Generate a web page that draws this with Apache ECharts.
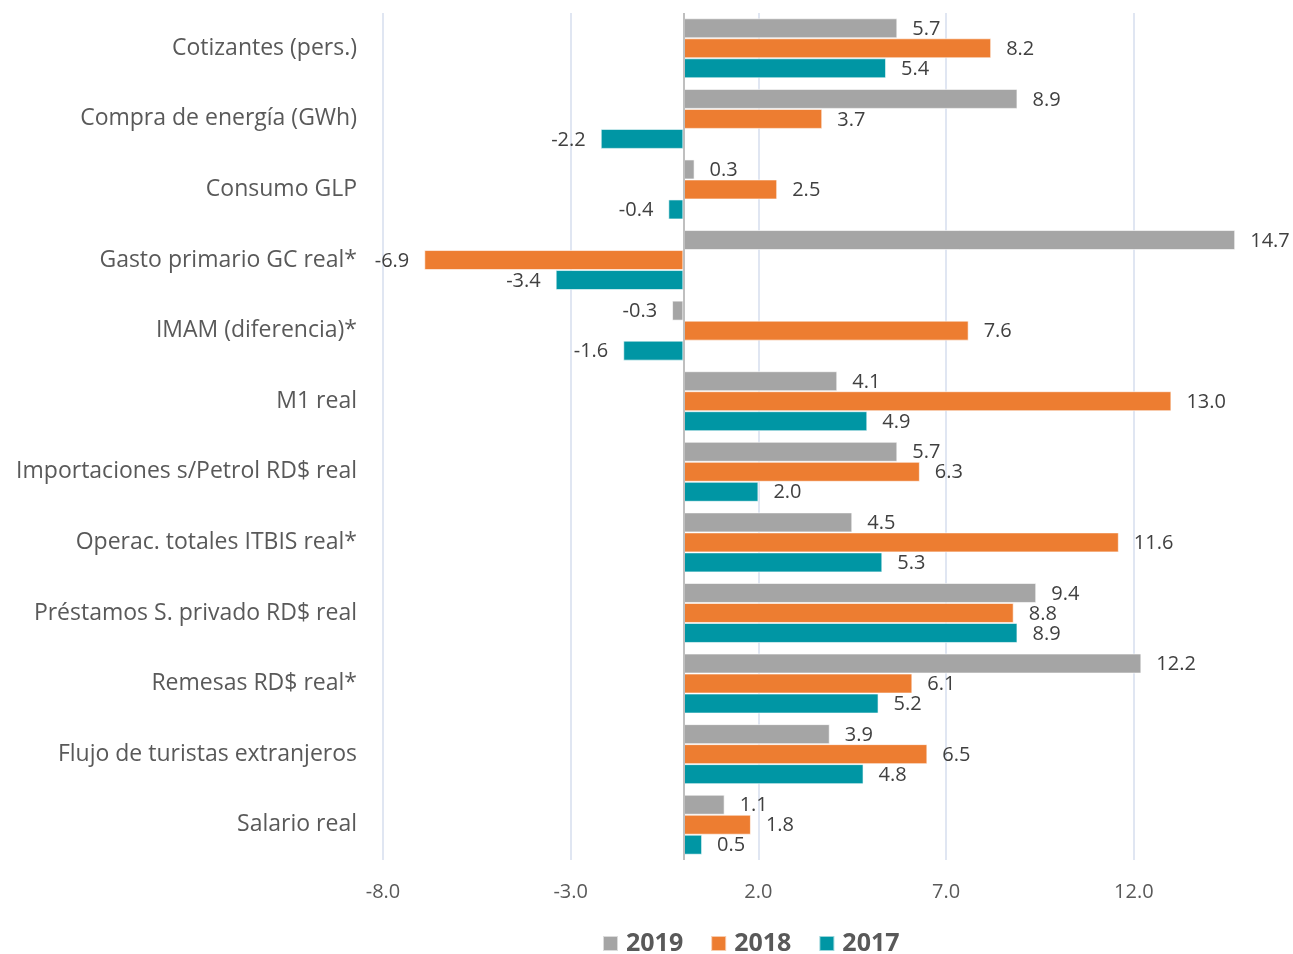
<!DOCTYPE html>
<html>
<head>
<meta charset="utf-8" />
<title>Indicadores</title>
<script src="https://cdn.jsdelivr.net/npm/echarts@6/dist/echarts.min.js"></script>
<style type="text/css">
  html, body { margin: 0; padding: 0; background: #fff; }
  #main { width: 1293px; height: 954px; }
</style>
</head>
<body>
<div id="main"></div>
<script>
// categorias (de arriba hacia abajo)
var categories = [
  'Cotizantes (pers.)',
  'Compra de energía (GWh)',
  'Consumo GLP',
  'Gasto primario GC real*',
  'IMAM (diferencia)*',
  'M1 real',
  'Importaciones s/Petrol RD$ real',
  'Operac. totales ITBIS real*',
  'Préstamos S. privado RD$ real',
  'Remesas RD$ real*',
  'Flujo de turistas extranjeros',
  'Salario real'
];
var years = ['2019', '2018', '2017'];
var data2019 = [5.7, 8.9, 0.3, 14.7, -0.3, 4.1, 5.7, 4.5, 9.4, 12.2, 3.9, 1.1];
var data2018 = [8.2, 3.7, 2.5, -6.9, 7.6, 13.0, 6.3, 11.6, 8.8, 6.1, 6.5, 1.8];
var data2017 = [5.4, -2.2, -0.4, -3.4, -1.6, 4.9, 2.0, 5.3, 8.9, 5.2, 4.8, 0.5];
var xTicks = [-8, -3, 2, 7, 12];
var colors = ['#A5A5A5', '#ED7D31', '#0096A4'];

var font = '"Open Sans", "Noto Sans", sans-serif';

function makeData(arr) {
  var out = [];
  for (var i = 0; i < arr.length; i++) {
    out.push({
      value: arr[i],
      label: { position: arr[i] < 0 ? 'left' : 'right' }
    });
  }
  return out;
}

var all = [data2019, data2018, data2017];
var series = [];
for (var s = 0; s < years.length; s++) {
  var ser = {
    name: years[s],
    type: 'bar',
    barWidth: 20,
    barGap: '0%',
    data: makeData(all[s]),
    itemStyle: { color: colors[s], borderColor: 'rgba(255,255,255,0.6)', borderWidth: 1 },
    label: {
      show: true,
      distance: 15,
      offset: [0, 1],
      color: '#404040',
      fontFamily: font,
      fontSize: 20,
      formatter: function (p) { return p.value.toFixed(1); }
    }
  };
  if (s == 0) {
    ser.markLine = {
      silent: true,
      symbol: 'none',
      label: { show: false },
      lineStyle: { color: '#BFBFBF', type: 'solid', width: 2 },
      data: [{ xAxis: 0 }]
    };
  }
  series.push(ser);
}

var chart = echarts.init(document.getElementById('main'));
chart.setOption({
  animation: false,
  backgroundColor: '#fff',
  grid: { left: 383, right: 9, top: 13, bottom: 94, containLabel: false },
  legend: {
    data: years,
    top: 926,
    left: 597,
    itemWidth: 15,
    itemHeight: 15,
    itemGap: 27,
    icon: 'rect',
    textStyle: { fontFamily: font, fontSize: 25, fontWeight: 'bold', color: '#595959', padding: [0, 0, 0, 3] }
  },
  xAxis: {
    type: 'value',
    min: -8,
    max: 16,
    interval: 5,
    axisLine: { show: false },
    axisTick: { show: false },
    splitLine: { show: true, showMaxLine: false, lineStyle: { color: '#D6DEEE', width: 1.5 } },
    axisLabel: {
      margin: 22,
      color: '#595959',
      fontFamily: font,
      fontSize: 20,
      showMaxLabel: false,
      formatter: function (v) { return xTicks.indexOf(v) >= 0 ? v.toFixed(1) : ''; }
    }
  },
  yAxis: {
    type: 'category',
    data: categories,
    inverse: true,
    axisLine: { show: false },
    axisTick: { show: false },
    axisLabel: {
      margin: 26,
      color: '#595959',
      fontFamily: font,
      fontSize: 23
    }
  },
  series: series
});
</script>
</body>
</html>
